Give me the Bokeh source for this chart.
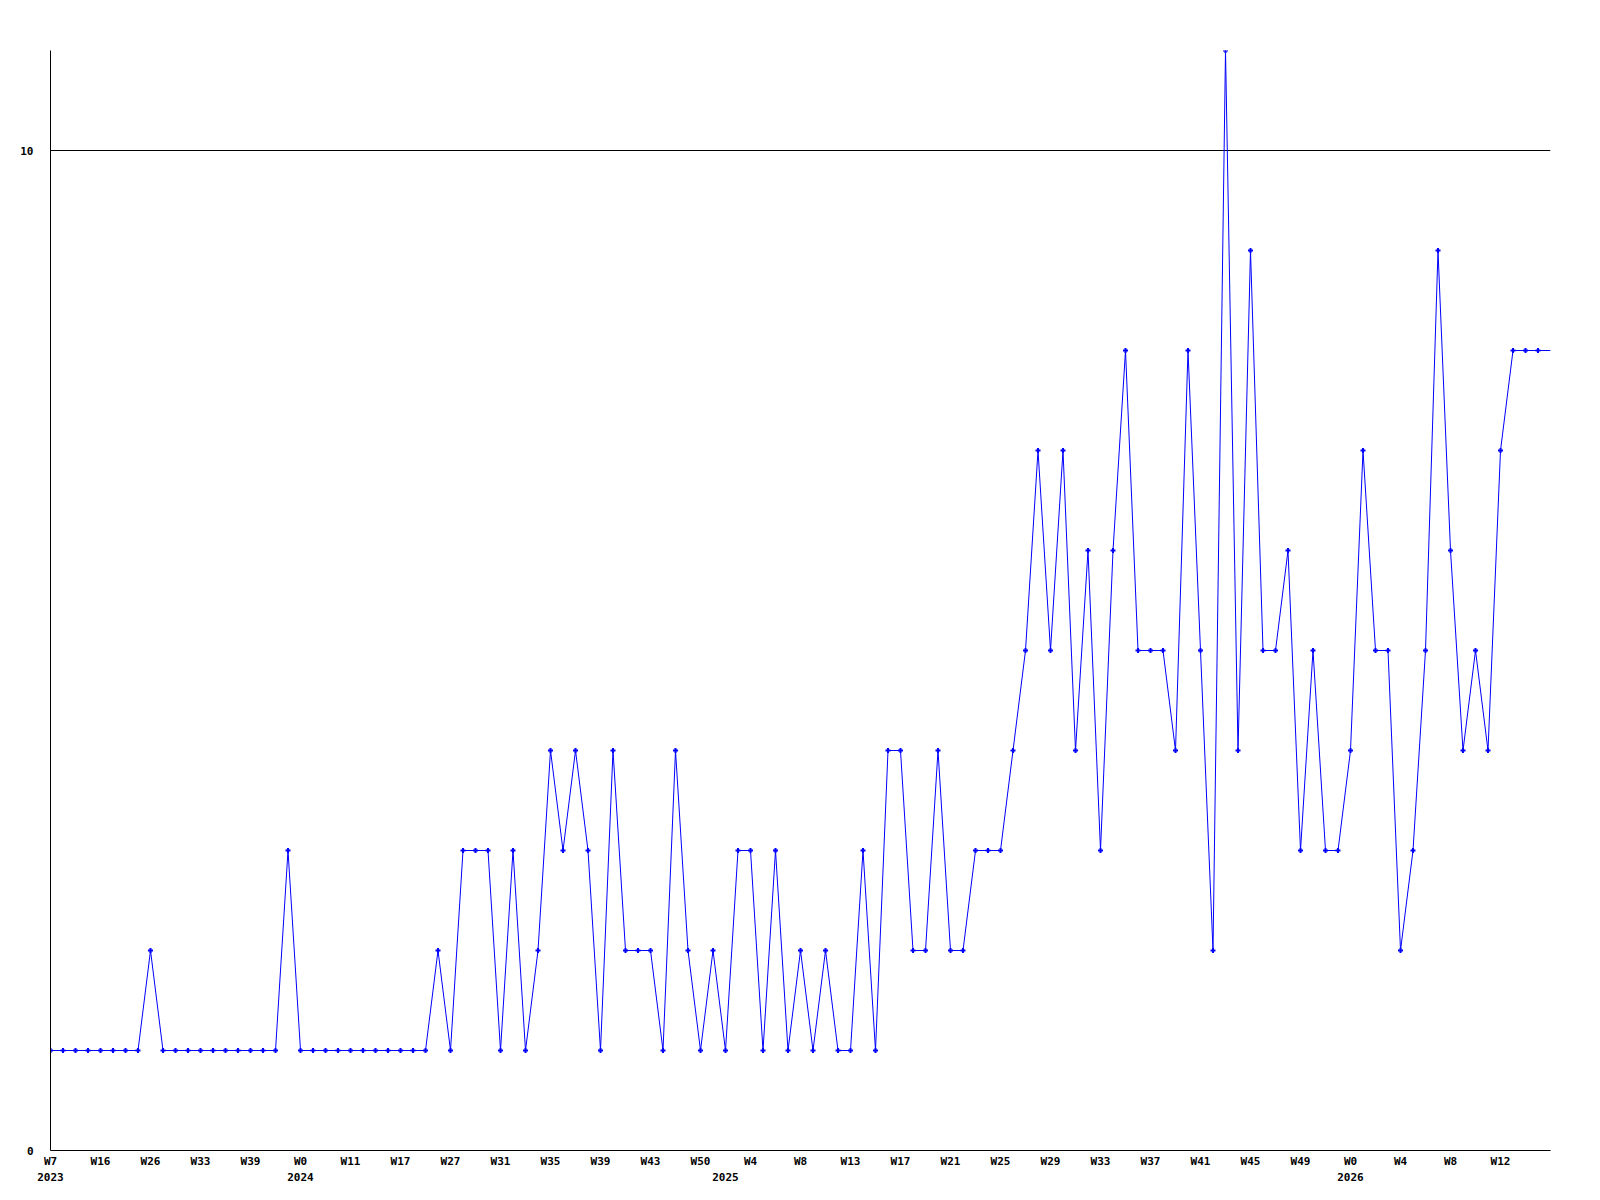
import numpy as np
from bokeh.plotting import figure
from bokeh.models import Range1d, FixedTicker, LinearAxis, ColumnDataSource
from bokeh.embed import file_html
from bokeh.resources import INLINE

# weekly counts (last value continues to the right edge)
values = [1, 1, 1, 1, 1, 1, 1, 1, 2, 1,
          1, 1, 1, 1, 1, 1, 1, 1, 1, 3,
          1, 1, 1, 1, 1, 1, 1, 1, 1, 1,
          1, 2, 1, 3, 3, 3, 1, 3, 1, 2,
          4, 3, 4, 3, 1, 4, 2, 2, 2, 1,
          4, 2, 1, 2, 1, 3, 3, 1, 3, 1,
          2, 1, 2, 1, 1, 3, 1, 4, 4, 2,
          2, 4, 2, 2, 3, 3, 3, 4, 5, 7,
          5, 7, 4, 6, 3, 6, 8, 5, 5, 5,
          4, 8, 5, 2, 11, 4, 9, 5, 5, 6,
          3, 5, 3, 3, 4, 7, 5, 5, 2, 3,
          5, 9, 6, 4, 5, 4, 7, 8, 8, 8,
          8]

week_labels = ["W7", "W16", "W26", "W33", "W39", "W0", "W11", "W17", "W27", "W31",
               "W35", "W39", "W43", "W50", "W4", "W8", "W13", "W17", "W21", "W25",
               "W29", "W33", "W37", "W41", "W45", "W49", "W0", "W4", "W8", "W12"]
week_label_every = 4
year_labels = ["2023", "2024", "2025", "2026"]
year_positions = [0, 20, 54, 104]
y_ticks = [0, 10]

x = np.arange(len(values))
n_marked = len(values) - 1

FONT = "DejaVu Sans Mono"

p = figure(frame_width=1500, frame_height=1100,
           min_border_left=50, min_border_top=50, min_border_right=40, min_border_bottom=44,
           output_backend="svg", toolbar_location=None,
           x_range=Range1d(0, len(values) - 1), y_range=Range1d(0, 11))
p.outline_line_color = None
p.background_fill_color = "white"
p.border_fill_color = "white"

src_line = ColumnDataSource(dict(x=x, y=values))
src_pts = ColumnDataSource(dict(x=x[:n_marked], y=values[:n_marked]))
p.line("x", "y", source=src_line, line_color="#0000ff", line_width=1)
p.scatter("x", "y", source=src_pts, marker="cross", size=5, line_width=2, color="#0000ff")

# grid
p.xgrid.visible = False
p.ygrid.ticker = FixedTicker(ticks=y_ticks)
p.ygrid.grid_line_color = "black"
p.ygrid.grid_line_width = 1
p.ygrid.grid_line_alpha = 1.0

# y axis
ya = p.yaxis[0]
ya.ticker = FixedTicker(ticks=y_ticks)
ya.axis_line_color = "black"
ya.major_tick_line_color = None
ya.minor_tick_line_color = None
ya.major_tick_out = 0
ya.major_label_standoff = 17
ya.major_label_text_font = FONT
ya.major_label_text_font_style = "bold"
ya.major_label_text_font_size = "11px"
ya.major_label_text_color = "black"

# x axis (weeks)
xa = p.xaxis[0]
week_ticks = [i * week_label_every for i in range(len(week_labels))]
xa.ticker = FixedTicker(ticks=week_ticks)
xa.major_label_overrides = {t: l for t, l in zip(week_ticks, week_labels)}
xa.axis_line_color = "black"
xa.major_tick_line_color = None
xa.minor_tick_line_color = None
xa.major_tick_out = 0
xa.major_label_standoff = 4
xa.major_label_text_font = FONT
xa.major_label_text_font_style = "bold"
xa.major_label_text_font_size = "11px"
xa.major_label_text_color = "black"

# x axis (years)
ya2 = LinearAxis(ticker=FixedTicker(ticks=year_positions))
ya2.major_label_overrides = {t: l for t, l in zip(year_positions, year_labels)}
ya2.axis_line_color = None
ya2.major_tick_line_color = None
ya2.minor_tick_line_color = None
ya2.major_tick_out = 0
ya2.major_label_standoff = 2
ya2.major_label_text_font = FONT
ya2.major_label_text_font_style = "bold"
ya2.major_label_text_font_size = "11px"
ya2.major_label_text_color = "black"
p.add_layout(ya2, "below")

open("out.html", "w").write(file_html(p, INLINE))
